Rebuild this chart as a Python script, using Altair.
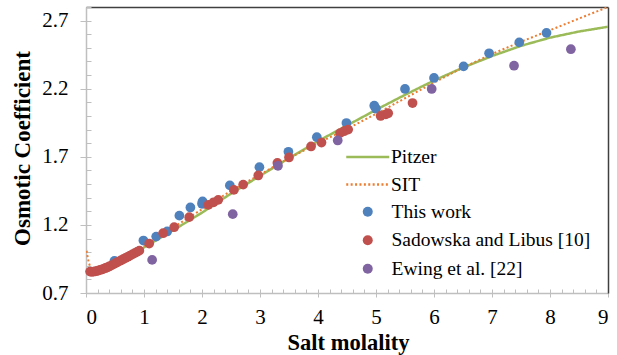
import altair as alt
import pandas as pd

FONT = "Liberation Serif"

# ---- data ----
LINE_SERIES = ["Pitzer", "SIT"]
LINE_COLORS = ["#9BBB59", "#ED7D31"]
POINT_SERIES = ["This work", "Sadowska and Libus [10]", "Ewing et al. [22]"]
POINT_COLORS = ["#4F81BD", "#C0504D", "#8064A2"]

pitzer_m = [0.1, 0.2, 0.3, 0.5, 0.75, 1.0, 1.5, 2.0, 2.5, 3.0, 3.5, 4.0, 4.5, 5.0,
            5.5, 6.0, 6.5, 7.0, 7.5, 8.0, 8.5, 9.0]
pitzer_phi = [0.86, 0.862, 0.872, 0.905, 0.965, 1.035, 1.16, 1.29, 1.43, 1.56, 1.69,
              1.815, 1.93, 2.045, 2.155, 2.26, 2.355, 2.44, 2.515, 2.575, 2.62, 2.655]

sit_m = [0.01, 0.02, 0.03, 0.05, 0.08, 0.12, 0.2, 0.3, 0.5, 0.75, 1.0, 1.5, 2.0, 2.5,
         3.0, 3.5, 4.0, 4.5, 5.0, 5.5, 6.0, 6.5, 7.0, 7.5, 8.0, 8.5, 9.0]
sit_phi = [1.01, 0.985, 0.96, 0.92, 0.885, 0.866, 0.858, 0.868, 0.905, 0.967, 1.045,
           1.18, 1.315, 1.45, 1.57, 1.69, 1.80, 1.905, 2.015, 2.13, 2.245, 2.355,
           2.455, 2.545, 2.63, 2.715, 2.80]

this_m = [0.49, 0.99, 1.21, 1.40, 1.61, 1.80, 2.0, 2.01, 2.48, 2.99, 3.49, 3.98, 4.49,
          4.97, 5.0, 5.5, 6.0, 6.51, 6.95, 7.47, 7.94]
this_phi = [0.935, 1.085, 1.114, 1.152, 1.268, 1.328, 1.355, 1.372, 1.49, 1.624, 1.737,
            1.844, 1.948, 2.075, 2.053, 2.198, 2.279, 2.364, 2.46, 2.54, 2.61]

sad_m = [0.07, 0.10, 0.13, 0.16, 0.19, 0.22, 0.25, 0.28, 0.31, 0.34, 0.37, 0.40, 0.44,
         0.48, 0.52, 0.56, 0.60, 0.64, 0.68, 0.72, 0.76, 0.80, 0.84, 0.88, 0.92,
         1.09, 1.33, 1.52, 1.78, 2.11, 2.20, 2.28, 2.55, 2.71, 2.97, 3.30, 3.50, 3.88,
         4.06, 4.38, 4.45, 4.52, 5.08, 5.17, 5.21, 5.63]
sad_phi = [0.857, 0.856, 0.857, 0.859, 0.862, 0.866, 0.870, 0.874, 0.879, 0.884, 0.889,
           0.895, 0.903, 0.912, 0.921, 0.930, 0.939, 0.948, 0.957, 0.966, 0.975, 0.984,
           0.993, 1.002, 1.011,
           1.063, 1.139, 1.183, 1.257, 1.347, 1.366, 1.384, 1.457, 1.496, 1.563, 1.655,
           1.695, 1.776, 1.805, 1.874, 1.888, 1.900, 2.0, 2.012, 2.02, 2.095]

ewing_m = [1.14, 2.53, 3.31, 4.34, 5.96, 7.38, 8.36]
ewing_phi = [0.943, 1.279, 1.634, 1.82, 2.198, 2.369, 2.49]

Y_MAJOR = [0.7, 1.2, 1.7, 2.2, 2.7]
Y_MINOR = [round(0.7 + 0.1 * i, 1) for i in range(22)]
X_MAJOR = [0, 1, 2, 3, 4, 5, 6, 7, 8, 9]
X_MINOR = [round(0.2 * i, 1) for i in range(46)]

pitzer_df = pd.DataFrame({"m": pitzer_m, "phi": pitzer_phi, "series": "Pitzer"})
sit_df = pd.DataFrame({"m": sit_m, "phi": sit_phi, "series": "SIT"})
this_df = pd.DataFrame({"m": this_m, "phi": this_phi, "series": "This work"})
sad_df = pd.DataFrame({"m": sad_m, "phi": sad_phi, "series": "Sadowska and Libus [10]"})
ewing_df = pd.DataFrame({"m": ewing_m, "phi": ewing_phi, "series": "Ewing et al. [22]"})

W, H = 522, 286
GRAY = "#BFBFBF"
FRAME = "#404040"

xscale = alt.Scale(domain=[0, 9], nice=False, zero=False)
yscale = alt.Scale(domain=[0.7, 2.8], nice=False, zero=False)

x_main = alt.Axis(orient="bottom", values=X_MAJOR, format="d", tickSize=4, tickColor=GRAY,
                  domainColor=GRAY, domainWidth=1.5, grid=False, labelFont=FONT,
                  labelFontSize=21, labelColor="black", labelBaseline="alphabetic",
                  labelPadding=26, title="Salt molality", titleFont=FONT, titleFontSize=22.5,
                  titleFontWeight="bold", titleColor="black", titleX=W / 2 + 1, titleY=56,
                  titleBaseline="alphabetic", titleAlign="center")
y_main = alt.Axis(orient="left", values=Y_MAJOR, format=".1f", tickSize=6, tickColor=GRAY,
                  domainColor=GRAY, domainWidth=1.5, grid=False, labelFont=FONT,
                  labelFontSize=21, labelColor="black", labelPadding=12,
                  title="Osmotic Coefficient", titleFont=FONT, titleFontSize=23,
                  titleFontWeight="bold", titleColor="black", titleX=-64, titleY=141,
                  titleAngle=-90, titleBaseline="middle", titleAlign="center")
x_minor = alt.Axis(orient="bottom", values=X_MINOR, tickSize=4, offset=-4, tickColor=GRAY,
                   labels=False, domain=False, grid=False, title=None)
y_minor = alt.Axis(orient="left", values=Y_MINOR, tickSize=5, offset=-5, tickColor=GRAY,
                   labels=False, domain=False, grid=False, title=None)
x_frame = alt.Axis(orient="top", domain=True, domainColor=FRAME, domainWidth=1.5,
                   ticks=False, labels=False, grid=False, title=None)
y_frame = alt.Axis(orient="right", domain=True, domainColor=FRAME, domainWidth=1.5,
                   ticks=False, labels=False, grid=False, title=None)

# custom line symbol: spans -r..3r where r = sqrt(size)/2  -> length 2*sqrt(size)
line_legend = alt.Legend(title=None, orient="none", legendX=259, legendY=138,
                         symbolType="M-1,0H3", symbolSize=462, symbolStrokeWidth=2.5,
                         labelFont=FONT, labelFontSize=19.5, labelColor="black",
                         labelOffset=22, rowPadding=5.5, labelLimit=300)
point_legend = alt.Legend(title=None, orient="none", legendX=272, legendY=195,
                          symbolType="circle", symbolSize=100, labelFont=FONT,
                          labelFontSize=19.5, labelColor="black", labelOffset=14,
                          rowPadding=7.5, symbolOpacity=1, labelLimit=300)

stroke_enc = alt.Stroke("series:N", scale=alt.Scale(domain=LINE_SERIES, range=LINE_COLORS),
                        legend=line_legend)
dash_enc = alt.StrokeDash("series:N", scale=alt.Scale(domain=LINE_SERIES,
                                                      range=[[1, 0], [2, 2.4]]),
                          legend=line_legend)
color_enc = alt.Color("series:N", scale=alt.Scale(domain=POINT_SERIES, range=POINT_COLORS),
                      legend=point_legend)

pitzer = alt.Chart(pitzer_df).mark_line(strokeWidth=2.5, clip=True).encode(
    x=alt.X("m:Q", scale=xscale, axis=x_main),
    y=alt.Y("phi:Q", scale=yscale, axis=y_main),
    stroke=stroke_enc, strokeDash=dash_enc)

sit = alt.Chart(sit_df).mark_line(strokeWidth=2, clip=True).encode(
    x=alt.X("m:Q", scale=xscale, axis=x_minor),
    y=alt.Y("phi:Q", scale=yscale, axis=y_minor),
    stroke=stroke_enc, strokeDash=dash_enc)

def pts(df, xaxis=None, yaxis=None):
    return alt.Chart(df).mark_circle(size=95, opacity=1).encode(
        x=alt.X("m:Q", scale=xscale, axis=xaxis),
        y=alt.Y("phi:Q", scale=yscale, axis=yaxis),
        color=color_enc)

chart = alt.layer(
    pitzer, sit,
    pts(this_df, x_frame, y_frame),
    pts(sad_df),
    pts(ewing_df),
).resolve_axis(x="independent", y="independent").properties(
    width=W, height=H,
    autosize=alt.AutoSizeParams(type="none"),
    padding={"left": 86, "top": 7, "right": 9, "bottom": 62},
    background="white",
).configure(font=FONT).configure_view(stroke=None)

chart.save("out.html", embed_options={"renderer": "svg", "actions": False})
